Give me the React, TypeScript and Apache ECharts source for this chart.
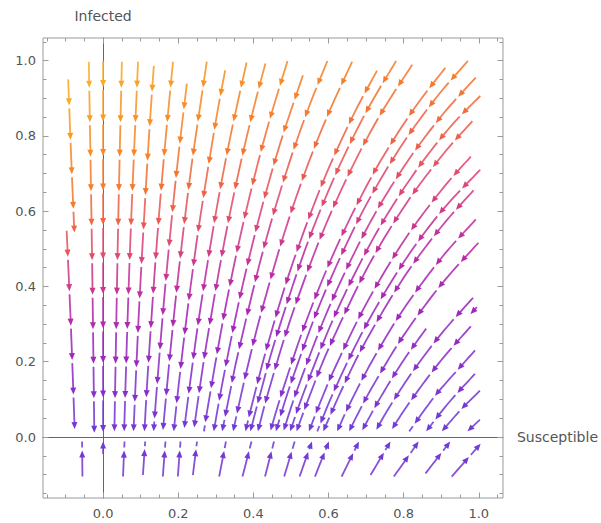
import React, { useEffect, useRef } from "react";
import * as echarts from "echarts";

// Axis ticks
const xMajorTicks = [0, 0.2, 0.4, 0.6, 0.8, 1.0];
const xMinorTicks = [-0.15, -0.1, -0.05, 0.05, 0.1, 0.15, 0.25, 0.3, 0.35, 0.45, 0.5, 0.55, 0.65, 0.7, 0.75, 0.85, 0.9, 0.95, 1.05];
const yMajorTicks = [0, 0.2, 0.4, 0.6, 0.8, 1.0];
const yMinorTicks = [-0.15, -0.1, -0.05, 0.05, 0.1, 0.15, 0.25, 0.3, 0.35, 0.45, 0.5, 0.55, 0.65, 0.7, 0.75, 0.85, 0.9, 0.95, 1.05];
const xRange = [-0.16, 1.0645];
const yRange = [-0.162, 1.06];

// Streamlines above I = 0 (points [Susceptible, Infected], in flow order)
const streamsUpper: number[][][] = [
  [[-0.093, 0.95], [-0.0853, 0.75], [-0.0765, 0.543]],
  [[-0.097, 0.548], [-0.086, 0.3], [-0.0755, 0.016]],
  [[-0.038, 0.997], [-0.0297, 0.5], [-0.0234, 0.011]],
  [[0, 0.999], [0, 0.008]],
  [[0.05, 0.997], [0.04, 0.56], [0.03, 0.015]],
  [[0.093, 0.997], [0.075, 0.584], [0.065, 0.308], [0.056, 0.015]],
  [[0.135, 0.986], [0.12, 0.765], [0.1, 0.421], [0.09, 0.22], [0.081, 0.015]],
  [[0.186, 0.997], [0.16, 0.722], [0.14, 0.475], [0.12, 0.186], [0.11, 0.015]],
  [[0.223, 0.939], [0.2, 0.744], [0.18, 0.553], [0.16, 0.338], [0.14, 0.091], [0.1345, 0.015]],
  [[0.276, 0.997], [0.24, 0.754], [0.22, 0.6], [0.2, 0.429], [0.18, 0.238], [0.159, 0.015]],
  [[0.325, 0.974], [0.3, 0.839], [0.26, 0.593], [0.24, 0.453], [0.22, 0.299], [0.2, 0.128], [0.188, 0.015]],
  [[0.382, 0.995], [0.34, 0.804], [0.3, 0.594], [0.26, 0.348], [0.24, 0.208], [0.215, 0.015]],
  [[0.432, 0.992], [0.4, 0.87], [0.36, 0.7], [0.32, 0.504], [0.28, 0.277], [0.26, 0.149], [0.241, 0.015]],
  [[0.491, 0.999], [0.44, 0.831], [0.4, 0.68], [0.36, 0.51], [0.32, 0.314], [0.28, 0.087], [0.2685, 0.015]],
  [[0.532, 0.961], [0.48, 0.807], [0.44, 0.673], [0.4, 0.522], [0.36, 0.352], [0.32, 0.156], [0.2945, 0.015]],
  [[0.597, 0.999], [0.54, 0.856], [0.48, 0.68], [0.42, 0.473], [0.36, 0.225], [0.34, 0.13], [0.317, 0.015]],
  [[0.663, 0.997], [0.6, 0.86], [0.54, 0.71], [0.48, 0.534], [0.42, 0.327], [0.38, 0.167], [0.346, 0.015]],
  [[0.729, 0.973], [0.66, 0.843], [0.58, 0.665], [0.5, 0.448], [0.44, 0.252], [0.4, 0.101], [0.379, 0.015]],
  [[0.78, 0.999], [0.7, 0.863], [0.62, 0.7], [0.54, 0.504], [0.46, 0.263], [0.42, 0.121], [0.392, 0.015]],
  [[0.823, 0.989], [0.74, 0.86], [0.66, 0.711], [0.58, 0.533], [0.5, 0.316], [0.44, 0.12], [0.412, 0.015]],
  [[0.911, 0.981], [0.82, 0.861], [0.72, 0.701], [0.62, 0.502], [0.54, 0.306], [0.48, 0.13], [0.445, 0.015]],
  [[0.971, 0.999], [0.88, 0.893], [0.78, 0.752], [0.68, 0.578], [0.58, 0.36], [0.5, 0.143], [0.46, 0.015]],
  [[0.992, 0.955], [0.9, 0.852], [0.8, 0.717], [0.7, 0.55], [0.6, 0.341], [0.52, 0.135], [0.48, 0.015]],
  [[1.004, 0.906], [0.92, 0.819], [0.82, 0.689], [0.72, 0.529], [0.62, 0.33], [0.54, 0.134], [0.498, 0.015]],
  [[0.983, 0.839], [0.9, 0.745], [0.8, 0.61], [0.7, 0.443], [0.6, 0.234], [0.55, 0.11], [0.515, 0.015]],
  [[0.979, 0.745], [0.9, 0.655], [0.8, 0.52], [0.7, 0.353], [0.62, 0.19], [0.58, 0.097], [0.548, 0.015]],
  [[1.004, 0.71], [0.9, 0.599], [0.8, 0.464], [0.7, 0.297], [0.62, 0.134], [0.57, 0.015]],
  [[0.986, 0.655], [0.9, 0.558], [0.8, 0.423], [0.7, 0.256], [0.64, 0.136], [0.586, 0.015]],
  [[0.992, 0.578], [0.9, 0.475], [0.8, 0.34], [0.72, 0.209], [0.66, 0.095], [0.623, 0.015]],
  [[0.999, 0.516], [0.9, 0.405], [0.8, 0.27], [0.72, 0.139], [0.68, 0.065], [0.655, 0.015]],
  [[0.86, 0.288], [0.8, 0.204], [0.74, 0.108], [0.69, 0.018]],
  [[0.995, 0.345], [0.978, 0.327]],
  [[0.985, 0.37], [0.9, 0.274], [0.82, 0.168], [0.76, 0.076], [0.725, 0.015]],
  [[0.979, 0.294], [0.9, 0.204], [0.82, 0.098], [0.765, 0.015]],
  [[0.99, 0.23], [0.9, 0.129], [0.86, 0.078], [0.815, 0.015]],
  [[0.99, 0.168], [0.92, 0.091], [0.86, 0.015]],
  [[1.003, 0.123], [0.95, 0.07], [0.902, 0.015]],
  [[1.003, 0.046], [0.97, 0.015]],
];

// Streamlines below I = 0 (flowing upward)
const streamsLower: number[][][] = [
  [[-0.055, -0.105], [-0.056, -0.012]],
  [[0, -0.045], [0, -0.012]],
  [[0.053, -0.105], [0.057, -0.012]],
  [[0.106, -0.101], [0.112, -0.012]],
  [[0.159, -0.105], [0.166, -0.012]],
  [[0.199, -0.105], [0.206, -0.012]],
  [[0.239, -0.101], [0.25, -0.012]],
  [[0.309, -0.105], [0.327, -0.012]],
  [[0.371, -0.105], [0.395, -0.012]],
  [[0.431, -0.105], [0.455, -0.012]],
  [[0.482, -0.105], [0.51, -0.012]],
  [[0.523, -0.105], [0.556, -0.012]],
  [[0.564, -0.105], [0.601, -0.012]],
  [[0.635, -0.105], [0.681, -0.012]],
  [[0.712, -0.101], [0.765, -0.012]],
  [[0.774, -0.105], [0.84, -0.012]],
  [[0.858, -0.097], [0.924, -0.012]],
  [[0.928, -0.105], [1.005, -0.018]],
];

const allStreams = [...streamsUpper, ...streamsLower];

// colour ramp by local speed
const colorStops: [number, string][] = [
  [0, "#6a3fd8"], [0.3, "#8630cc"], [0.6, "#a526b8"], [0.85, "#c3309a"],
  [1.05, "#dd4577"], [1.25, "#ee5f4a"], [1.45, "#f5792e"], [1.75, "#f78f26"],
  [2.0, "#f8a623"], [2.3, "#fbbd2a"],
];

function hexToRgb(h: string) {
  return [parseInt(h.slice(1, 3), 16), parseInt(h.slice(3, 5), 16), parseInt(h.slice(5, 7), 16)];
}

function colorAt(S: number, I: number) {
  const m = 1.08 * Math.abs(I) * Math.sqrt(S * S + (S - 2) * (S - 2));
  if (m <= colorStops[0][0]) return colorStops[0][1];
  for (let i = 1; i < colorStops.length; i++) {
    if (m <= colorStops[i][0]) {
      const [m0, c0] = colorStops[i - 1];
      const [m1, c1] = colorStops[i];
      const t = (m - m0) / (m1 - m0);
      const a = hexToRgb(c0), b = hexToRgb(c1);
      const r = a.map((v, k) => Math.round(v + (b[k] - v) * t));
      return `rgb(${r[0]},${r[1]},${r[2]})`;
    }
  }
  return colorStops[colorStops.length - 1][1];
}

function smooth(pts: number[][], steps: number) {
  const out: number[][] = [];
  const n = pts.length;
  for (let i = 0; i < n - 1; i++) {
    const p0 = pts[Math.max(0, i - 1)], p1 = pts[i], p2 = pts[i + 1], p3 = pts[Math.min(n - 1, i + 2)];
    for (let k = 0; k < steps; k++) {
      const t = k / steps, t2 = t * t, t3 = t2 * t;
      const f = (a: number, b: number, c: number, d: number) =>
        0.5 * (2 * b + (-a + c) * t + (2 * a - 5 * b + 4 * c - d) * t2 + (-a + 3 * b - 3 * c + d) * t3);
      out.push([f(p0[0], p1[0], p2[0], p3[0]), f(p0[1], p1[1], p2[1], p3[1])]);
    }
  }
  out.push(pts[n - 1]);
  return out;
}

const ARROW_FIRST = 26;
const PERIOD = 34.5;
const GAP = 3;
const HEAD_LEN = 7;
const HEAD_HALF = 3;

function buildStream(pts: number[][], api: any) {
  const dense = smooth(pts, 12);
  const px = dense.map((p) => api.coord(p) as number[]);
  const cum = [0];
  for (let i = 1; i < px.length; i++) {
    cum.push(cum[i - 1] + Math.hypot(px[i][0] - px[i - 1][0], px[i][1] - px[i - 1][1]));
  }
  const T = cum[cum.length - 1];
  const at = (d: number) => {
    let i = 1;
    while (i < cum.length - 1 && cum[i] < d) i++;
    const seg = cum[i] - cum[i - 1] || 1;
    const t = Math.min(1, Math.max(0, (d - cum[i - 1]) / seg));
    return {
      x: px[i - 1][0] + (px[i][0] - px[i - 1][0]) * t,
      y: px[i - 1][1] + (px[i][1] - px[i - 1][1]) * t,
      S: dense[i - 1][0] + (dense[i][0] - dense[i - 1][0]) * t,
      I: dense[i - 1][1] + (dense[i][1] - dense[i - 1][1]) * t,
      dx: (px[i][0] - px[i - 1][0]) / seg,
      dy: (px[i][1] - px[i - 1][1]) / seg,
    };
  };
  const children: any[] = [];
  const bounds: [number, number][] = [];
  let a = 0, b = ARROW_FIRST;
  while (a < T) {
    bounds.push([a, Math.min(b, T)]);
    a = b + GAP;
    b += PERIOD;
  }
  for (const [s, e] of bounds) {
    const len = e - s;
    if (len < 1.5) continue;
    const arrow = len >= HEAD_LEN + 1;
    const bodyEnd = arrow ? e - HEAD_LEN * 0.6 : e;
    const points: number[][] = [];
    const ps = at(s);
    points.push([ps.x, ps.y]);
    for (let i = 0; i < cum.length; i++) if (cum[i] > s && cum[i] < bodyEnd) points.push(px[i]);
    const pe = at(bodyEnd);
    points.push([pe.x, pe.y]);
    const mid = at((s + e) / 2);
    const col = colorAt(mid.S, mid.I);
    children.push({
      type: "polyline",
      shape: { points },
      style: { stroke: col, lineWidth: 1.8, fill: "none", opacity: 0.88 },
      silent: true,
    });
    if (arrow) {
      const tip = at(e);
      const bx = tip.x - tip.dx * HEAD_LEN, by = tip.y - tip.dy * HEAD_LEN;
      const nx = -tip.dy, ny = tip.dx;
      children.push({
        type: "polygon",
        shape: {
          points: [
            [tip.x, tip.y],
            [bx + nx * HEAD_HALF, by + ny * HEAD_HALF],
            [bx - nx * HEAD_HALF, by - ny * HEAD_HALF],
          ],
        },
        style: { fill: col },
        silent: true,
      });
    }
  }
  return children;
}

const FONT = "DejaVu Sans";
const FRAME = "#9a9a9a";
const TEXT = "#555555";

function frameAxis(kind: "x" | "y", position: string, ticks: number[], len: number, labels: boolean) {
  const range = kind === "x" ? xRange : yRange;
  return {
    type: "value",
    min: range[0],
    max: range[1],
    position,
    axisLine: { show: false, onZero: false },
    splitLine: { show: false },
    axisTick: { show: true, inside: true, length: len, customValues: ticks, lineStyle: { color: FRAME, width: 1 } },
    axisLabel: labels
      ? {
          show: true,
          customValues: ticks,
          formatter: (v: number) => v.toFixed(1),
          color: TEXT,
          fontSize: 13,
          fontFamily: FONT,
          margin: kind === "x" ? 9 : 7,
        }
      : { show: false },
  };
}

export default function App() {
  const ref = useRef<HTMLDivElement>(null);
  useEffect(() => {
    if (!ref.current) return;
    const chart = echarts.init(ref.current, null, { renderer: "svg" });
    const option: any = {
      animation: false,
      backgroundColor: "#ffffff",
      grid: { left: 43, top: 38, width: 461, height: 460, show: true, borderColor: FRAME, borderWidth: 1, backgroundColor: "transparent" },
      xAxis: [
        frameAxis("x", "bottom", xMajorTicks, 5.5, true),
        frameAxis("x", "bottom", xMinorTicks, 3.5, false),
        frameAxis("x", "top", xMajorTicks, 5.5, false),
        frameAxis("x", "top", xMinorTicks, 3.5, false),
        {
          type: "value",
          min: xRange[0],
          max: xRange[1],
          position: "bottom",
          axisLine: { show: true, onZero: true, onZeroAxisIndex: 0, lineStyle: { color: "#666666", width: 1 } },
          axisTick: { show: false },
          axisLabel: { show: false },
          splitLine: { show: false },
          name: "Susceptible",
          nameLocation: "end",
          nameGap: 14,
          nameTextStyle: { color: TEXT, fontSize: 14, fontFamily: FONT },
        },
      ],
      yAxis: [
        frameAxis("y", "left", yMajorTicks, 5.5, true),
        frameAxis("y", "left", yMinorTicks, 3.5, false),
        frameAxis("y", "right", yMajorTicks, 5.5, false),
        frameAxis("y", "right", yMinorTicks, 3.5, false),
        {
          type: "value",
          min: yRange[0],
          max: yRange[1],
          position: "left",
          axisLine: { show: true, onZero: true, onZeroAxisIndex: 0, lineStyle: { color: "#666666", width: 1 } },
          axisTick: { show: false },
          axisLabel: { show: false },
          splitLine: { show: false },
          name: "Infected",
          nameLocation: "end",
          nameGap: 15,
          nameTextStyle: { color: TEXT, fontSize: 14, fontFamily: FONT },
        },
      ],
      series: [
        {
          type: "custom",
          coordinateSystem: "cartesian2d",
          xAxisIndex: 0,
          yAxisIndex: 0,
          silent: true,
          data: allStreams.map((_, i) => ({ value: [i, 0] })),
          renderItem: (_params: any, api: any) => {
            const idx = api.value(0) as number;
            return { type: "group", children: buildStream(allStreams[idx], api) };
          },
        },
      ],
    };
    chart.setOption(option);
    return () => chart.dispose();
  }, []);
  return <div ref={ref} style={{ position: "fixed", left: 0, top: 0, width: 601, height: 523 }} />;
}
